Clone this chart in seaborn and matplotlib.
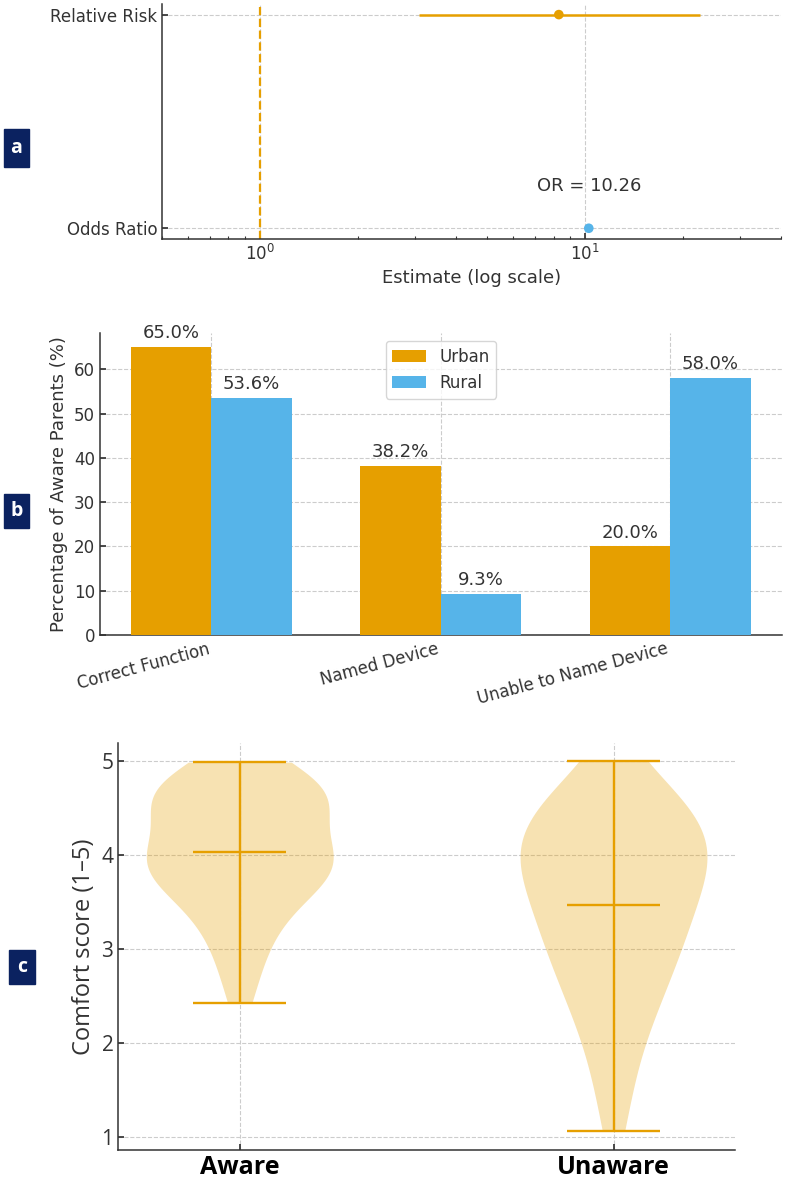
import numpy as np
import pandas as pd
import seaborn as sns
import matplotlib.pyplot as plt
from matplotlib.patches import Rectangle

# ---- data ----
# panel a: effect estimates
measures = ['Odds Ratio', 'Relative Risk']
estimates = [10.26, 8.3]
ci_lower = [np.nan, 3.08]
ci_upper = [np.nan, 22.5]

# panel b: awareness items
items = ['Correct Function', 'Named Device', 'Unable to Name Device']
urban = [65.0, 38.2, 20.0]
rural = [53.6, 9.3, 58.0]

# panel c: comfort scores
groups = ['Aware', 'Unaware']
aware_scores = [2.43, 2.7, 2.9, 3.05, 3.18, 3.3, 3.4, 3.48, 3.55, 3.62,
                3.68, 3.73, 3.77, 3.81, 3.85, 3.88, 3.91, 3.94, 3.97, 4.0,
                4.03, 4.06, 4.1, 4.15, 4.25, 4.35, 4.43, 4.48, 4.52, 4.55,
                4.58, 4.61, 4.64, 4.67, 4.7, 4.74, 4.78, 4.83, 4.88, 4.93, 4.99]
unaware_scores = [1.06, 1.4, 1.65, 1.9, 2.05, 2.2, 2.32, 2.45, 2.55, 2.63,
                  2.71, 2.8, 2.88, 2.96, 3.03, 3.1, 3.17, 3.23, 3.28, 3.35,
                  3.42, 3.48, 3.54, 3.6, 3.66, 3.72, 3.78, 3.83, 3.88, 3.93,
                  3.97, 4.02, 4.06, 4.1, 4.14, 4.18, 4.22, 4.28, 4.33, 4.38,
                  4.43, 4.48, 4.54, 4.6, 4.66, 4.72, 4.82, 5.0]

ORANGE = '#E69F00'
BLUE = '#56B4E9'
NAVY = '#0b2260'
TEXT = '#333333'

sns.set_theme(style='ticks')
plt.rcParams.update({
    'font.family': ['DejaVu Sans'],
    'text.color': TEXT, 'axes.labelcolor': TEXT,
    'xtick.color': TEXT, 'ytick.color': TEXT,
    'axes.edgecolor': '#333333', 'axes.linewidth': 1.1,
    'xtick.direction': 'in', 'ytick.direction': 'in',
    'xtick.major.size': 4, 'ytick.major.size': 4,
    'xtick.minor.size': 2.5, 'xtick.minor.width': 0.8,
    'grid.color': '#cccccc', 'grid.linestyle': '--', 'grid.linewidth': 0.8,
    'axes.spines.top': False, 'axes.spines.right': False,
})

fig = plt.figure(figsize=(7.86, 11.87), dpi=100)
ax_a = fig.add_axes([0.2061, 0.7987, 0.7875, 0.1980])
ax_b = fig.add_axes([0.1272, 0.4650, 0.8673, 0.2547])
ax_c = fig.add_axes([0.1505, 0.0312, 0.7846, 0.3431])

# ---- panel a ----
df_a = pd.DataFrame({'measure': measures, 'estimate': estimates,
                     'low': ci_lower, 'high': ci_upper})
df_a['pos'] = np.arange(len(df_a))
ax_a.set_xscale('log')
ax_a.grid(True, which='major')
ax_a.axvline(1, color=ORANGE, ls='--', lw=1.6, zorder=2)
ci = df_a.dropna()
ax_a.hlines(ci['pos'], ci['low'], ci['high'], color=ORANGE, lw=1.8, zorder=3)
sns.scatterplot(data=df_a, x='estimate', y='pos', hue='measure',
                palette=[BLUE, ORANGE], s=48, edgecolor='none', legend=False,
                ax=ax_a, zorder=4)
ax_a.text(estimates[0], df_a['pos'][0] + 0.2, f'OR = {estimates[0]:.2f}',
          ha='center', va='center', fontsize=13)
ax_a.set_xlim(0.5, 40)
ax_a.set_ylim(-0.05, 1.05)
ax_a.set_yticks(df_a['pos'], measures)
ax_a.tick_params(axis='y', labelsize=12)
ax_a.tick_params(axis='x', labelsize=12)
ax_a.set_ylabel('')
ax_a.set_xlabel('Estimate (log scale)', fontsize=13)

# ---- panel b ----
df_b = pd.DataFrame({'item': items * 2,
                     'group': ['Urban'] * len(urban) + ['Rural'] * len(rural),
                     'pct': urban + rural})
sns.barplot(data=df_b, x='item', y='pct', hue='group', palette=[ORANGE, BLUE],
            width=0.7, saturation=1, linewidth=0, errorbar=None, ax=ax_b, zorder=3)
for cont in ax_b.containers:
    ax_b.bar_label(cont, fmt='%.1f%%', padding=3.5, fontsize=13, color=TEXT)
ax_b.set_xlim(-0.485, 2.485)
ax_b.set_ylim(0, 68.25)
ax_b.grid(True, axis='both')
ax_b.set_axisbelow(True)
ax_b.set_xlabel('')
ax_b.set_ylabel('Percentage of Aware Parents (%)', fontsize=13)
ax_b.tick_params(axis='y', labelsize=12)
ax_b.tick_params(axis='x', labelsize=12)
plt.setp(ax_b.get_xticklabels(), rotation=15, ha='right')
leg = ax_b.legend(loc='upper center', fontsize=12, frameon=True, title=None)
leg.get_frame().set_edgecolor('#cccccc')

# ---- panel c ----
df_c = pd.DataFrame({'group': ['Aware'] * len(aware_scores) + ['Unaware'] * len(unaware_scores),
                     'score': aware_scores + unaware_scores})
sns.violinplot(data=df_c, x='group', y='score', order=groups, cut=0, inner=None,
               density_norm='width', width=0.5, color=ORANGE, saturation=1,
               linewidth=0, ax=ax_c)
for coll in ax_c.collections:
    coll.set_alpha(0.3)
stats = df_c.groupby('group')['score'].agg(['min', 'max', 'mean']).loc[groups]
for i, (g, row) in enumerate(stats.iterrows()):
    ax_c.vlines(i, row['min'], row['max'], color=ORANGE, lw=1.7)
    ax_c.hlines([row['min'], row['max'], row['mean']], i - 0.125, i + 0.125,
                color=ORANGE, lw=1.7)
ax_c.set_xlim(-0.325, 1.325)
ax_c.set_ylim(0.863, 5.197)
ax_c.set_yticks([1, 2, 3, 4, 5])
ax_c.grid(True, axis='both')
ax_c.set_axisbelow(True)
ax_c.set_xlabel('')
ax_c.set_ylabel('Comfort score (1–5)', fontsize=17, family='Open Sans')
for lbl in ax_c.get_yticklabels():
    lbl.set_fontfamily('Open Sans')
    lbl.set_fontsize(15)
for lbl in ax_c.get_xticklabels():
    lbl.set_fontfamily('Open Sans')
    lbl.set_fontsize(18)
    lbl.set_fontweight('bold')
    lbl.set_color('black')

# ---- panel letters ----
W, H = 786, 1187
for letter, (x0, y0, w, h) in zip('abc', [(4, 129, 25, 38), (4, 494, 25, 34), (9, 950, 26, 34)]):
    fig.add_artist(Rectangle((x0 / W, 1 - (y0 + h) / H), w / W, h / H,
                             transform=fig.transFigure, color=NAVY))
    fig.text((x0 + w / 2) / W, 1 - (y0 + h / 2) / H, letter, color='white',
             fontsize=14, fontweight='bold', family='Open Sans', ha='center', va='center')

fig.savefig('out.png', dpi=100)
